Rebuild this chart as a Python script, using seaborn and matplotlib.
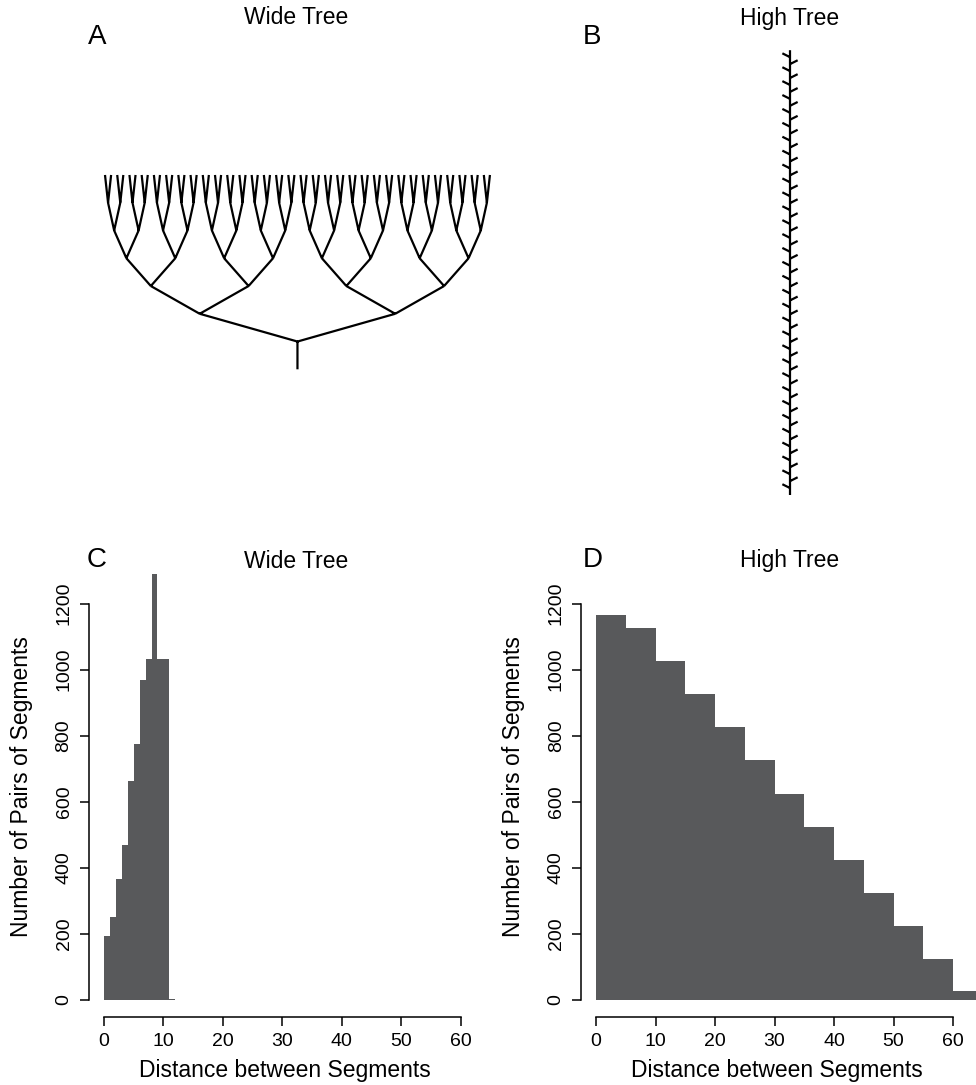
import numpy as np
import pandas as pd
import matplotlib
matplotlib.use("Agg")
import matplotlib.pyplot as plt
import seaborn as sns

# histogram counts
wide_edges = [0, 1, 2, 3, 4, 5, 6, 7, 8, 9, 10, 11, 12]
wide_counts = [192, 251, 367, 469, 662, 775, 968, 1031, 1290, 1031, 1031, 3]
high_edges = [0, 5, 10, 15, 20, 25, 30, 35, 40, 45, 50, 55, 60, 65]
high_counts = [1166, 1127, 1027, 926, 826, 725, 624, 524, 423, 323, 222, 122, 25]
yticks = [0, 200, 400, 600, 800, 1000, 1200]
xticks = [0, 10, 20, 30, 40, 50, 60]

# tree structure
wide_depth = 6      # branching levels of the wide tree (64 tips)
high_nodes = 63     # branch points along the high tree trunk

W, H = 976, 1085
BAR = "#58595B"

sns.set_style("ticks")
plt.rcParams["font.family"] = ["Liberation Sans", "DejaVu Sans"]
plt.rcParams.update({
    "text.color": "black",
    "axes.labelcolor": "black",
    "axes.edgecolor": "black",
    "xtick.color": "black",
    "ytick.color": "black",
})

fig = plt.figure(figsize=(W / 100, H / 100), dpi=100)


def px_rect(x0, y0, x1, y1):
    return [x0 / W, 1 - y1 / H, (x1 - x0) / W, (y1 - y0) / H]


def hist_panel(rect, edges, counts):
    ax = fig.add_axes(rect)
    mids = [(a + b) / 2 for a, b in zip(edges[:-1], edges[1:])]
    df = pd.DataFrame({"dist": mids, "n": counts})
    sns.histplot(data=df, x="dist", weights="n", bins=list(edges), color=BAR,
                 alpha=1, linewidth=0, ax=ax)
    ax.set_xlim(-2.6, 67.6)
    ax.set_ylim(-51.6, 1341.6)
    ax.set_xticks(xticks)
    ax.set_yticks(yticks)
    ax.set_yticklabels([str(v) for v in yticks], rotation=90, va="center")
    for s in ["top", "right"]:
        ax.spines[s].set_visible(False)
    ax.spines["left"].set_bounds(0, 1200)
    ax.spines["bottom"].set_bounds(0, 60)
    for s in ["left", "bottom"]:
        ax.spines[s].set_linewidth(1.1)
        ax.spines[s].set_color("black")
    ax.tick_params(length=6.5, width=1.1, labelsize=14, pad=5, colors="black")
    ax.set_xlabel("Distance between Segments", fontsize=16.5)
    ax.xaxis.set_label_coords(0.47, -0.116)
    ax.xaxis.label.set_verticalalignment("center")
    ax.set_ylabel("Number of Pairs of Segments", fontsize=16.5)
    ax.yaxis.set_label_coords(-0.16, 0.5)
    ax.yaxis.label.set_verticalalignment("center")
    ax.grid(False)
    return ax


# C and D histograms
hist_panel(px_rect(88.5, 556.9, 506, 1016.7), wide_edges, wide_counts)
hist_panel(px_rect(580.7, 556.9, 998.2, 1016.7), high_edges, high_counts)

# A: wide (balanced binary) tree
axA = fig.add_axes(px_rect(95, 165, 500, 380))
axA.set_axis_off()
n_tips = 2 ** wide_depth
xs, ys = [], []
root_x = (n_tips - 1) / 2
xs += [root_x, root_x, None]
ys += [0, 1, None]
for lev in range(wide_depth):
    span = 2 ** (wide_depth - lev)
    for i in range(2 ** lev):
        px = i * span + (span - 1) / 2
        for c in range(2):
            cspan = span // 2
            cx = (2 * i + c) * cspan + (cspan - 1) / 2
            xs += [px, cx, None]
            ys += [lev + 1, lev + 2, None]
axA.plot(xs, ys, color="black", lw=1.6, solid_capstyle="butt")
axA.set_xlim((95 - 105) / 6.11, (500 - 105) / 6.11)
axA.set_ylim((369.3 - 380) / 27.76, (369.3 - 165) / 27.76)

# B: high (caterpillar) tree
axB = fig.add_axes(px_rect(760, 40, 820, 505))
axB.set_axis_off()
xs, ys = [0, 0, None], [0, high_nodes + 1, None]
for k in range(1, high_nodes + 1):
    side = -1 if k % 2 == 1 else 1
    xs += [0, side * 1.1, None]
    ys += [k, k + 0.55, None]
axB.plot(xs, ys, color="black", lw=1.6, solid_capstyle="butt")
axB.set_xlim((760 - 790) / 6.95, (820 - 790) / 6.95)
axB.set_ylim((495 - 505) / 6.95, (495 - 40) / 6.95)

# titles and panel letters
for x, y, s in [(296, 18, "Wide Tree"), (790, 18, "High Tree"),
                (296, 561, "Wide Tree"), (790, 561, "High Tree")]:
    fig.text(x / W, 1 - y / H, s, ha="center", va="center", fontsize=16.5)
for x, y, s in [(97, 37, "A"), (592, 37, "B"), (97, 560, "C"), (593, 560, "D")]:
    fig.text(x / W, 1 - y / H, s, ha="center", va="center", fontsize=20)

fig.savefig("out.png", dpi=100)
